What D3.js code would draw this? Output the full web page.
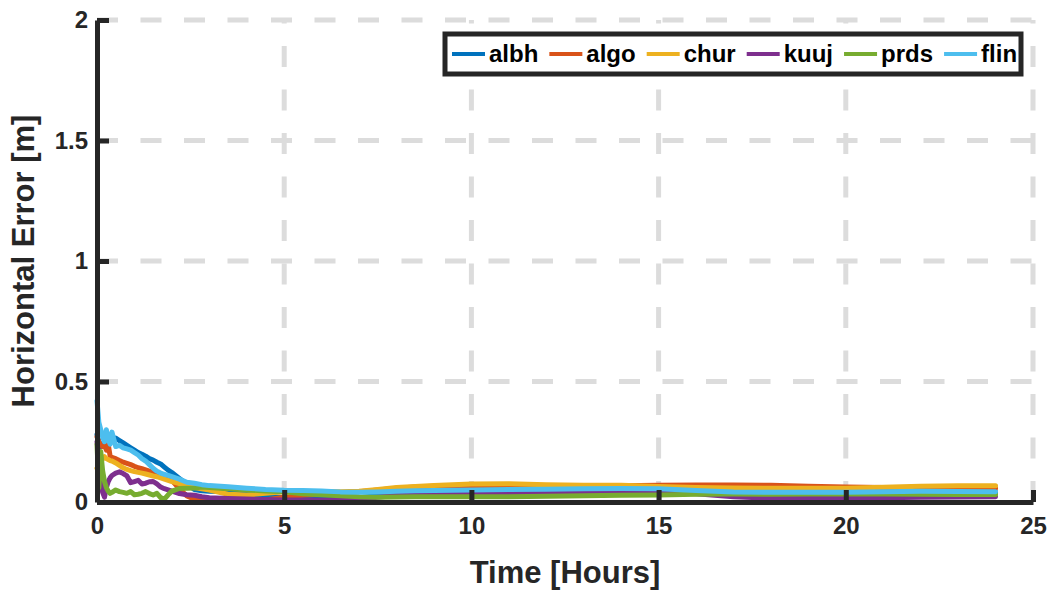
<!DOCTYPE html>
<html>
<head>
<meta charset="utf-8">
<script src="https://cdn.jsdelivr.net/npm/d3@7"></script>
<style>
  html, body { margin: 0; padding: 0; background: #fff; }
  svg { display: block; font-family: "Liberation Sans", Arial, Helvetica, sans-serif; }
</style>
</head>
<body>
<svg id="chart" width="1055" height="592"></svg>
<script>
// Time axis (hours) shared by all stations
const hours = [0, 0.05, 0.1, 0.15, 0.2, 0.25, 0.3, 0.35, 0.4, 0.5, 0.6, 0.7, 0.8, 0.9, 1.0,
  1.1, 1.2, 1.3, 1.4, 1.5, 1.6, 1.7, 1.8, 1.9, 2.0, 2.2, 2.4, 2.6, 2.8, 3.0, 3.5, 4.0, 4.5,
  5.0, 5.5, 6.0, 6.5, 7.0, 7.5, 8.0, 8.5, 9.0, 10, 11, 12, 13, 14, 15, 16, 17, 18, 19, 20,
  21, 22, 23, 24];

// Horizontal position error per station [m]
const albh = [0.28, 0.25, 0.23, 0.24, 0.25, 0.24, 0.255, 0.25, 0.26, 0.265, 0.255, 0.245, 0.235,
  0.225, 0.215, 0.205, 0.198, 0.19, 0.18, 0.174, 0.165, 0.158, 0.145, 0.132, 0.122, 0.098, 0.075,
  0.052, 0.047, 0.045, 0.043, 0.035, 0.026, 0.018, 0.012, 0.01, 0.012, 0.018, 0.027, 0.033, 0.035,
  0.036, 0.038, 0.04, 0.042, 0.044, 0.045, 0.045, 0.043, 0.04, 0.038, 0.037, 0.038, 0.04, 0.041,
  0.042, 0.042];
const algo = [0.27, 0.25, 0.235, 0.23, 0.235, 0.215, 0.24, 0.19, 0.185, 0.18, 0.172, 0.165, 0.16,
  0.155, 0.148, 0.142, 0.138, 0.133, 0.128, 0.124, 0.12, 0.115, 0.108, 0.1, 0.09, 0.055, 0.025,
  0.012, 0.008, 0.006, 0.004, 0.005, 0.008, 0.02, 0.028, 0.033, 0.038, 0.043, 0.05, 0.057, 0.062,
  0.065, 0.068, 0.066, 0.062, 0.064, 0.067, 0.07, 0.071, 0.071, 0.069, 0.065, 0.062, 0.06, 0.058,
  0.057, 0.057];
const chur = [0.14, 0.15, 0.165, 0.18, 0.188, 0.18, 0.176, 0.172, 0.17, 0.162, 0.152, 0.142, 0.135,
  0.13, 0.126, 0.123, 0.12, 0.116, 0.112, 0.108, 0.105, 0.1, 0.095, 0.09, 0.085, 0.076, 0.067,
  0.06, 0.055, 0.05, 0.032, 0.029, 0.036, 0.042, 0.044, 0.044, 0.043, 0.045, 0.052, 0.06, 0.064,
  0.068, 0.075, 0.076, 0.072, 0.069, 0.069, 0.064, 0.06, 0.058, 0.057, 0.057, 0.057, 0.061, 0.065,
  0.067, 0.067];
const kuuj = [0.25, 0.19, 0.09, 0.04, 0.02, 0.06, 0.085, 0.1, 0.11, 0.12, 0.125, 0.118, 0.108,
  0.08, 0.085, 0.09, 0.075, 0.078, 0.084, 0.085, 0.075, 0.062, 0.055, 0.05, 0.045, 0.035, 0.03,
  0.028, 0.022, 0.018, 0.015, 0.012, 0.01, 0.008, 0.008, 0.008, 0.009, 0.012, 0.02, 0.028, 0.032,
  0.035, 0.036, 0.036, 0.038, 0.039, 0.04, 0.04, 0.034, 0.022, 0.016, 0.015, 0.016, 0.018, 0.02,
  0.021, 0.022];
const prds = [0.24, 0.06, 0.21, 0.13, 0.085, 0.06, 0.045, 0.036, 0.04, 0.05, 0.043, 0.04, 0.036,
  0.043, 0.03, 0.032, 0.036, 0.043, 0.035, 0.029, 0.036, 0.018, 0.012, 0.03, 0.045, 0.056, 0.057,
  0.058, 0.062, 0.06, 0.055, 0.05, 0.046, 0.042, 0.034, 0.03, 0.026, 0.022, 0.02, 0.021, 0.022,
  0.022, 0.022, 0.022, 0.024, 0.026, 0.028, 0.029, 0.032, 0.033, 0.032, 0.033, 0.033, 0.033, 0.032,
  0.031, 0.031];
const flin = [0.42, 0.33, 0.30, 0.27, 0.25, 0.30, 0.26, 0.24, 0.29, 0.23, 0.235, 0.225, 0.22,
  0.215, 0.205, 0.195, 0.18, 0.17, 0.155, 0.14, 0.128, 0.12, 0.115, 0.11, 0.105, 0.095, 0.082,
  0.078, 0.072, 0.068, 0.063, 0.057, 0.052, 0.049, 0.048, 0.046, 0.042, 0.04, 0.042, 0.045, 0.047,
  0.048, 0.05, 0.052, 0.053, 0.055, 0.056, 0.055, 0.048, 0.042, 0.04, 0.04, 0.04, 0.043, 0.045,
  0.044, 0.043];

const stationNames = ["albh", "algo", "chur", "kuuj", "prds", "flin"];
const stationValues = [albh, algo, chur, kuuj, prds, flin];
const stationColors = ["#0072BD", "#D95319", "#EDB120", "#7E2F8E", "#77AC30", "#4DBEEE"];

const xTicks = [0, 5, 10, 15, 20, 25];
const yTicks = [0, 0.5, 1, 1.5, 2];

const svg = d3.select("#chart");
const axisColor = "#262626";

const x = d3.scaleLinear().domain([0, 25]).range([97, 1033]);
const y = d3.scaleLinear().domain([0, 2]).range([502, 20]);

// Dashed grid
const grid = svg.append("g").attr("class", "grid")
  .attr("stroke", "#dcdcdc").attr("stroke-width", 5)
  .attr("stroke-dasharray", "21,22.5").attr("fill", "none");
grid.selectAll("line.h").data(yTicks.filter(d => d > 0)).join("line")
  .attr("class", "h")
  .attr("x1", x(0)).attr("x2", x(25))
  .attr("y1", d => y(d)).attr("y2", d => y(d));
grid.selectAll("line.v").data(xTicks.filter(d => d > 0)).join("line")
  .attr("class", "v")
  .attr("x1", d => x(d)).attr("x2", d => x(d))
  .attr("y1", y(0)).attr("y2", y(2));

// Station traces
const line = d3.line()
  .x((d, i) => x(hours[i]))
  .y(d => y(d));
svg.append("g").attr("class", "series")
  .selectAll("path").data(stationValues).join("path")
  .attr("d", d => line(d))
  .attr("fill", "none")
  .attr("stroke", (d, i) => stationColors[i])
  .attr("stroke-width", 5)
  .attr("stroke-linejoin", "round")
  .attr("stroke-linecap", "round");

// Axes (ticks pointing inward)
function styleAxis(g) {
  g.select(".domain").attr("stroke", axisColor).attr("stroke-width", 5);
  g.selectAll(".tick line").attr("stroke", axisColor).attr("stroke-width", 5);
  g.selectAll(".tick text")
    .attr("fill", axisColor)
    .attr("font-size", 24)
    .attr("font-weight", "bold")
    .attr("font-family", "'Liberation Sans', Arial, sans-serif");
}

svg.append("g")
  .attr("transform", `translate(0,${y(0)})`)
  .call(d3.axisBottom(x).tickValues(xTicks).tickSize(-12).tickSizeOuter(0).tickPadding(15))
  .call(styleAxis);

svg.append("g")
  .attr("transform", `translate(${x(0)},0)`)
  .call(d3.axisLeft(y).tickValues(yTicks).tickSize(-12).tickSizeOuter(0).tickPadding(9)
    .tickFormat(d => String(d)))
  .call(styleAxis);

// Axis titles
svg.append("text")
  .attr("x", (x(0) + x(25)) / 2)
  .attr("y", 583)
  .attr("text-anchor", "middle")
  .attr("font-size", 31)
  .attr("font-weight", "bold")
  .attr("fill", axisColor)
  .text("Time [Hours]");

svg.append("text")
  .attr("transform", `translate(34,${(y(0) + y(2)) / 2}) rotate(-90)`)
  .attr("text-anchor", "middle")
  .attr("font-size", 31)
  .attr("font-weight", "bold")
  .attr("fill", axisColor)
  .text("Horizontal Error [m]");

// Legend
const legend = svg.append("g").attr("class", "legend");
const legendBox = legend.append("rect")
  .attr("x", 445).attr("y", 34).attr("width", 576).attr("height", 40)
  .attr("fill", "#fff").attr("stroke", axisColor).attr("stroke-width", 5);

let lx = 452;
stationNames.forEach((name, i) => {
  legend.append("line")
    .attr("x1", lx).attr("x2", lx + 33)
    .attr("y1", 54).attr("y2", 54)
    .attr("stroke", stationColors[i]).attr("stroke-width", 4);
  const t = legend.append("text")
    .attr("x", lx + 37).attr("y", 62)
    .attr("font-size", 24).attr("font-weight", "bold")
    .attr("fill", "#000")
    .text(name);
  lx += 37 + t.node().getComputedTextLength() + 11;
});
</script>
</body>
</html>
